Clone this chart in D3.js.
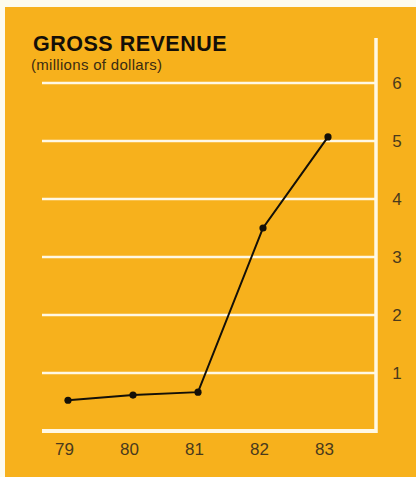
<!DOCTYPE html>
<html>
<head>
<meta charset="utf-8">
<script src="https://cdn.jsdelivr.net/npm/d3@7"></script>
<style>
  html, body { margin: 0; padding: 0; background: #fdfbee; }
  svg { display: block; }
</style>
</head>
<body>
<svg id="chart" width="416" height="477"></svg>
<script>
// Gross revenue by year, millions of dollars
const years = ["79", "80", "81", "82", "83"];
const revenue = [0.53, 0.62, 0.67, 3.5, 5.07];
const yTicks = [1, 2, 3, 4, 5, 6];

const W = 416, H = 477;
const svg = d3.select("#chart");

// orange panel
svg.append("rect")
  .attr("x", 5).attr("y", 7)
  .attr("width", W - 5).attr("height", H - 7)
  .attr("fill", "#f7b11c");

const x = d3.scalePoint().domain(years).range([66, 326]);
const y = d3.scaleLinear().domain([0, 6]).range([431, 83]);

const gridLeft = 42, gridRight = 376;

// horizontal rules
svg.append("g").selectAll("line")
  .data([0].concat(yTicks))
  .join("line")
  .attr("x1", gridLeft).attr("x2", gridRight)
  .attr("y1", d => y(d)).attr("y2", d => y(d))
  .attr("stroke", "#fff8e4")
  .attr("stroke-width", d => d === 0 ? 4 : 2.5);

// vertical rule on the right
svg.append("line")
  .attr("x1", gridRight).attr("x2", gridRight)
  .attr("y1", 38).attr("y2", y(0) + 2)
  .attr("stroke", "#fff8e4")
  .attr("stroke-width", 3.5);

// right axis labels
const yAxis = d3.axisRight(y).tickValues(yTicks).tickFormat(d3.format("d"))
  .tickSize(0).tickPadding(0);
const gy = svg.append("g").attr("transform", "translate(397,0)").call(yAxis);
gy.select(".domain").remove();
gy.selectAll("text")
  .attr("text-anchor", "middle")
  .attr("font-family", "Liberation Sans, Arial, sans-serif")
  .attr("font-size", 17)
  .attr("fill", "#4a3a1c");

// bottom axis labels
const xAxis = d3.axisBottom(x).tickSize(0).tickPadding(0);
const gx = svg.append("g").attr("transform", "translate(-2,439)").call(xAxis);
gx.select(".domain").remove();
gx.selectAll("text")
  .attr("dy", "0.95em")
  .attr("font-family", "Liberation Sans, Arial, sans-serif")
  .attr("font-size", 17)
  .attr("fill", "#4a3a1c");

// revenue line
const line = d3.line().x((d, i) => x(years[i]) + 2).y(d => y(d));
svg.append("path")
  .datum(revenue)
  .attr("d", line)
  .attr("fill", "none")
  .attr("stroke", "#141008")
  .attr("stroke-width", 2);

svg.append("g").selectAll("circle")
  .data(revenue)
  .join("circle")
  .attr("cx", (d, i) => x(years[i]) + 2)
  .attr("cy", d => y(d))
  .attr("r", 3.6)
  .attr("fill", "#141008");

// titles
svg.append("text")
  .attr("x", 33).attr("y", 50.5)
  .attr("font-family", "Liberation Sans, Arial, sans-serif")
  .attr("font-weight", "bold")
  .attr("font-size", 21.5)
  .attr("letter-spacing", 0.5)
  .attr("fill", "#140f08")
  .text("GROSS REVENUE");

svg.append("text")
  .attr("x", 31).attr("y", 69.5)
  .attr("font-family", "Liberation Sans, Arial, sans-serif")
  .attr("font-size", 15)
  .attr("letter-spacing", 0.3)
  .attr("fill", "#3a2c12")
  .text("(millions of dollars)");
</script>
</body>
</html>
